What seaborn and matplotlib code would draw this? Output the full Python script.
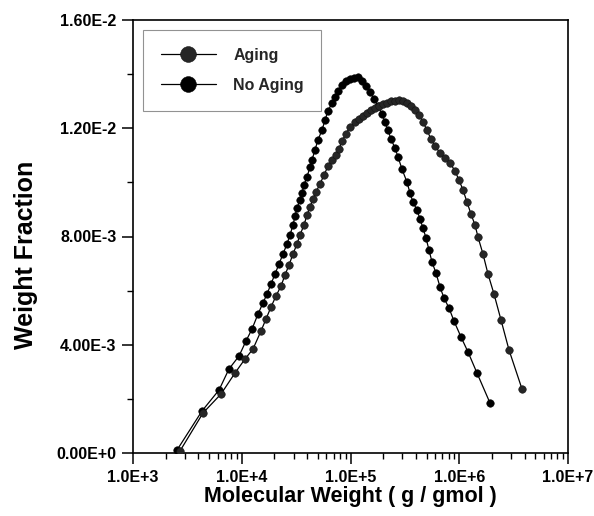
import matplotlib
matplotlib.use("Agg")
import matplotlib.pyplot as plt
import seaborn as sns
import pandas as pd
import numpy as np
from matplotlib.ticker import FixedLocator, NullFormatter

# ---- data ----
no_aging_mw = [2540, 4310, 6180, 7630, 9440, 10940, 12430, 14110, 15680, 17070,
               18580, 20220, 22010, 23950, 26070, 27780, 29600, 30890, 32210, 34320,
               35810, 37360, 39810, 42430, 44260, 47160, 50240, 54700, 58280, 62110,
               67600, 72030, 76750, 83530, 90930, 98940, 107700, 117200, 127600, 138800,
               151100, 164500, 179000, 194900, 207700, 221200, 235700, 256700, 273400, 297600,
               330700, 352500, 375500, 408800, 435600, 464200, 494600, 527000, 561600, 611300,
               665300, 724200, 804900, 894500, 1038000, 1204000, 1456000, 1918000]
no_aging_wf = [1.1e-4, 1.552e-3, 2.328e-3, 3.104e-3, 3.584e-3, 4.138e-3, 4.582e-3, 5.136e-3, 5.543e-3, 5.875e-3,
               6.245e-3, 6.614e-3, 6.984e-3, 7.353e-3, 7.723e-3, 8.055e-3, 8.425e-3, 8.757e-3, 9.053e-3, 9.348e-3,
               9.607e-3, 9.903e-3, 1.020e-2, 1.057e-2, 1.083e-2, 1.120e-2, 1.157e-2, 1.193e-2, 1.230e-2, 1.264e-2,
               1.293e-2, 1.315e-2, 1.338e-2, 1.360e-2, 1.375e-2, 1.382e-2, 1.386e-2, 1.389e-2, 1.375e-2, 1.356e-2,
               1.334e-2, 1.308e-2, 1.282e-2, 1.253e-2, 1.223e-2, 1.193e-2, 1.160e-2, 1.127e-2, 1.094e-2, 1.049e-2,
               1.001e-2, 9.607e-3, 9.274e-3, 8.979e-3, 8.646e-3, 8.314e-3, 7.944e-3, 7.501e-3, 7.057e-3, 6.651e-3,
               6.134e-3, 5.727e-3, 5.358e-3, 4.877e-3, 4.286e-3, 3.732e-3, 2.956e-3, 1.848e-3]

aging_mw = [2705, 4402, 6446, 8668, 10710, 12690, 15030, 16710, 18580, 20650,
            22960, 24990, 27200, 29600, 32210, 34320, 37360, 39810, 42430, 45210,
            48170, 52430, 57060, 62110, 67600, 73570, 78400, 83530, 90930, 98940,
            110000, 119700, 130300, 141800, 154300, 168000, 182900, 199000, 216600, 235700,
            256700, 279300, 304000, 330700, 360000, 391800, 426500, 464200, 505100, 549800,
            598400, 665300, 739600, 821900, 914000, 994700, 1083000, 1178000, 1282000, 1396000,
            1487000, 1653000, 1838000, 2087000, 2421000, 2868000, 3776000]
aging_wf = [7.4e-5, 1.478e-3, 2.180e-3, 2.956e-3, 3.473e-3, 3.843e-3, 4.508e-3, 4.951e-3, 5.395e-3, 5.801e-3,
            6.171e-3, 6.577e-3, 6.947e-3, 7.353e-3, 7.723e-3, 8.055e-3, 8.425e-3, 8.794e-3, 9.090e-3, 9.385e-3,
            9.644e-3, 9.940e-3, 1.027e-2, 1.060e-2, 1.083e-2, 1.101e-2, 1.123e-2, 1.153e-2, 1.179e-2, 1.205e-2,
            1.223e-2, 1.234e-2, 1.245e-2, 1.256e-2, 1.267e-2, 1.275e-2, 1.282e-2, 1.290e-2, 1.293e-2, 1.301e-2,
            1.301e-2, 1.304e-2, 1.301e-2, 1.293e-2, 1.282e-2, 1.267e-2, 1.249e-2, 1.223e-2, 1.193e-2, 1.160e-2,
            1.134e-2, 1.109e-2, 1.090e-2, 1.072e-2, 1.042e-2, 1.009e-2, 9.718e-3, 9.274e-3, 8.831e-3, 8.425e-3,
            7.981e-3, 7.353e-3, 6.614e-3, 5.875e-3, 4.914e-3, 3.806e-3, 2.365e-3]

series_labels = ["Aging", "No Aging"]
x_tick_values = [1e3, 1e4, 1e5, 1e6, 1e7]
x_tick_labels = ["1.0E+3", "1.0E+4", "1.0E+5", "1.0E+6", "1.0E+7"]
y_tick_values = [0.0, 0.004, 0.008, 0.012, 0.016]
y_tick_labels = ["0.00E+0", "4.00E-3", "8.00E-3", "1.20E-2", "1.60E-2"]
y_minor_values = [0.002, 0.006, 0.010, 0.014]
x_label = "Molecular Weight ( g / gmol )"
y_label = "Weight Fraction"

# ---- style ----
sns.set_theme(style="ticks")
plt.rcParams["font.family"] = ["Liberation Sans", "DejaVu Sans"]
plt.rcParams["font.weight"] = "bold"

fig = plt.figure(figsize=(5.94, 5.16), dpi=100)
ax = fig.add_axes([133 / 594, 63 / 516, 435 / 594, 433 / 516])

df_aging = pd.DataFrame({"mw": aging_mw, "wf": aging_wf})
df_no = pd.DataFrame({"mw": no_aging_mw, "wf": no_aging_wf})

sns.lineplot(data=df_no, x="mw", y="wf", ax=ax, color="black", linewidth=0.9,
             marker="o", markersize=5.4, markeredgecolor="black", markerfacecolor="black",
             markeredgewidth=0.4, label=series_labels[1], sort=False, zorder=3)
sns.lineplot(data=df_aging, x="mw", y="wf", ax=ax, color="black", linewidth=0.9,
             marker="o", markersize=5.4, markeredgecolor="#111111", markerfacecolor="#262626",
             markeredgewidth=0.4, label=series_labels[0], sort=False, zorder=4)

ax.set_xscale("log")
ax.set_xlim(1e3, 1e7)
ax.set_ylim(0, 0.016)

ax.set_xticks(x_tick_values)
ax.set_xticklabels(x_tick_labels)
ax.xaxis.set_minor_locator(matplotlib.ticker.LogLocator(base=10, subs=np.arange(2, 10)))
ax.xaxis.set_minor_formatter(NullFormatter())
ax.set_yticks(y_tick_values)
ax.set_yticklabels(y_tick_labels)
ax.yaxis.set_minor_locator(FixedLocator(y_minor_values))

ax.tick_params(axis="both", which="major", direction="out", length=8, width=1.1,
               color="black", labelsize=11.5, pad=4, labelcolor="black")
ax.tick_params(axis="both", which="minor", direction="out", length=4, width=1.0, color="black")
ax.tick_params(top=False, right=False, which="both")
for lab in ax.get_xticklabels() + ax.get_yticklabels():
    lab.set_fontweight("bold")

for sp in ax.spines.values():
    sp.set_visible(True)
    sp.set_color("black")
    sp.set_linewidth(1.2)

ax.set_xlabel(x_label, fontsize=15.5, fontweight="bold", color="black", labelpad=1)
ax.set_ylabel(y_label, fontsize=18, fontweight="bold", color="black")
ax.yaxis.set_label_coords(-0.218, 0.457)

handles, labels = ax.get_legend_handles_labels()
order = [labels.index(series_labels[0]), labels.index(series_labels[1])]
leg = ax.legend([handles[i] for i in order], [labels[i] for i in order],
                loc="upper left", bbox_to_anchor=(0.023, 0.977), frameon=True,
                fancybox=False, edgecolor="#777777", fontsize=11.5,
                handlelength=3.45, handletextpad=1.1, labelspacing=0.97,
                borderpad=1.1, borderaxespad=0.0, markerscale=2.1)
leg.get_frame().set_linewidth(0.8)
for t in leg.get_texts():
    t.set_fontweight("bold")

fig.savefig("out.png", dpi=100, facecolor="white")
